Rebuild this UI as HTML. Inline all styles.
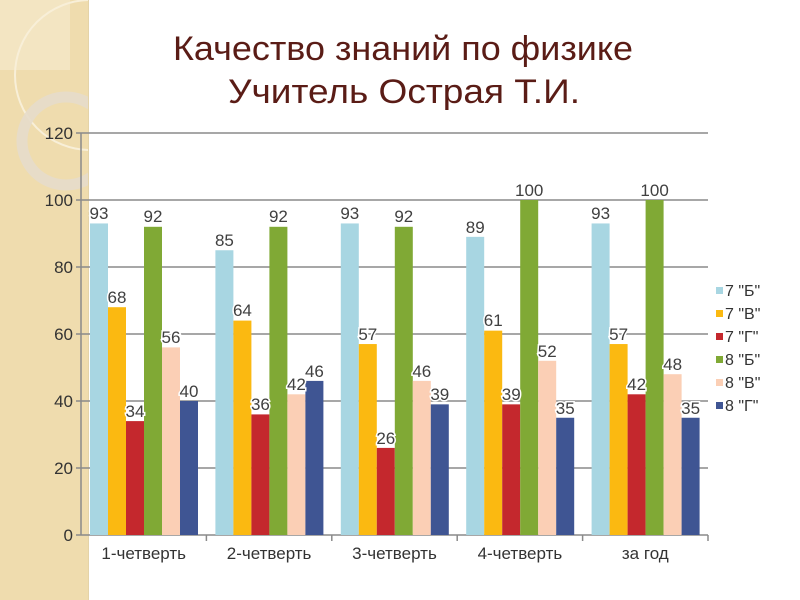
<!DOCTYPE html>
<html><head><meta charset="utf-8"><style>
html,body{margin:0;padding:0;background:#fff;}
svg{display:block;}
text{font-family:"Liberation Sans",sans-serif;}
</style></head><body>
<svg width="800" height="600" viewBox="0 0 800 600" xmlns="http://www.w3.org/2000/svg">
<defs><clipPath id="c"><rect x="0" y="0" width="88" height="600"/></clipPath></defs>
<rect x="0" y="0" width="88" height="600" fill="#efdcae"/>
<g clip-path="url(#c)">
<rect x="0" y="0" width="70" height="70" fill="#f3e5c2"/>
<circle cx="90" cy="75" r="75" fill="none" stroke="#f8efd8" stroke-width="2"/>
<circle cx="66" cy="141" r="44" fill="none" stroke="#e6dccb" stroke-width="11" opacity="0.9"/>
</g>
<line x1="88.5" y1="0" x2="88.5" y2="600" stroke="#e4d3a8" stroke-width="1"/>
<g font-family="'Liberation Serif','DejaVu Sans',serif" fill="#5a1c16" font-size="34" text-anchor="middle">
<text x="403" y="60" textLength="460" lengthAdjust="spacingAndGlyphs">Качество знаний по физике</text>
<text x="404" y="103" textLength="352" lengthAdjust="spacingAndGlyphs">Учитель Острая Т.И.</text>
</g>
<g stroke="#8a8a8a" stroke-width="1.5">
<line x1="76" y1="133" x2="708" y2="133"/>
<line x1="76" y1="200" x2="708" y2="200"/>
<line x1="76" y1="267" x2="708" y2="267"/>
<line x1="76" y1="334" x2="708" y2="334"/>
<line x1="76" y1="401" x2="708" y2="401"/>
<line x1="76" y1="468" x2="708" y2="468"/>
<line x1="76" y1="535" x2="708" y2="535"/>
<line x1="81" y1="133" x2="81" y2="535"/>
<line x1="206.4" y1="535" x2="206.4" y2="541"/>
<line x1="331.8" y1="535" x2="331.8" y2="541"/>
<line x1="457.2" y1="535" x2="457.2" y2="541"/>
<line x1="582.6" y1="535" x2="582.6" y2="541"/>
<line x1="708" y1="535" x2="708" y2="541"/>
</g>
<g font-size="17" fill="#333" text-anchor="end">
<text x="73" y="139">120</text><text x="73" y="206">100</text><text x="73" y="273">80</text>
<text x="73" y="340">60</text><text x="73" y="407">40</text><text x="73" y="474">20</text><text x="73" y="541">0</text>
</g>
<g>
<rect x="90" y="223.45" width="18" height="311.55" fill="#a8d6e2"/>
<rect x="108" y="307.2" width="18" height="227.8" fill="#fbb911"/>
<rect x="126" y="421.1" width="18" height="113.9" fill="#c4282d"/>
<rect x="144" y="226.8" width="18" height="308.2" fill="#80a935"/>
<rect x="162" y="347.4" width="18" height="187.6" fill="#fbcfb5"/>
<rect x="180" y="401" width="18" height="134" fill="#3f5593"/>

<rect x="215.4" y="250.25" width="18" height="284.75" fill="#a8d6e2"/>
<rect x="233.4" y="320.6" width="18" height="214.4" fill="#fbb911"/>
<rect x="251.4" y="414.4" width="18" height="120.6" fill="#c4282d"/>
<rect x="269.4" y="226.8" width="18" height="308.2" fill="#80a935"/>
<rect x="287.4" y="394.3" width="18" height="140.7" fill="#fbcfb5"/>
<rect x="305.4" y="380.9" width="18" height="154.1" fill="#3f5593"/>

<rect x="340.8" y="223.45" width="18" height="311.55" fill="#a8d6e2"/>
<rect x="358.8" y="344.05" width="18" height="190.95" fill="#fbb911"/>
<rect x="376.8" y="447.9" width="18" height="87.1" fill="#c4282d"/>
<rect x="394.8" y="226.8" width="18" height="308.2" fill="#80a935"/>
<rect x="412.8" y="380.9" width="18" height="154.1" fill="#fbcfb5"/>
<rect x="430.8" y="404.35" width="18" height="130.65" fill="#3f5593"/>

<rect x="466.2" y="236.85" width="18" height="298.15" fill="#a8d6e2"/>
<rect x="484.2" y="330.65" width="18" height="204.35" fill="#fbb911"/>
<rect x="502.2" y="404.35" width="18" height="130.65" fill="#c4282d"/>
<rect x="520.2" y="200" width="18" height="335" fill="#80a935"/>
<rect x="538.2" y="360.8" width="18" height="174.2" fill="#fbcfb5"/>
<rect x="556.2" y="417.75" width="18" height="117.25" fill="#3f5593"/>

<rect x="591.6" y="223.45" width="18" height="311.55" fill="#a8d6e2"/>
<rect x="609.6" y="344.05" width="18" height="190.95" fill="#fbb911"/>
<rect x="627.6" y="394.3" width="18" height="140.7" fill="#c4282d"/>
<rect x="645.6" y="200" width="18" height="335" fill="#80a935"/>
<rect x="663.6" y="374.2" width="18" height="160.8" fill="#fbcfb5"/>
<rect x="681.6" y="417.75" width="18" height="117.25" fill="#3f5593"/>
</g>
<g font-size="17" fill="#404040" text-anchor="middle" stroke="#fff" stroke-width="3" paint-order="stroke">
<text x="99" y="219">93</text><text x="117" y="303">68</text><text x="135" y="417">34</text><text x="153" y="222">92</text><text x="171" y="343">56</text><text x="189" y="397">40</text>
<text x="224.4" y="246">85</text><text x="242.4" y="316">64</text><text x="260.4" y="410">36</text><text x="278.4" y="222">92</text><text x="296.4" y="390">42</text><text x="314.4" y="377">46</text>
<text x="349.8" y="219">93</text><text x="367.8" y="340">57</text><text x="385.8" y="444">26</text><text x="403.8" y="222">92</text><text x="421.8" y="377">46</text><text x="439.8" y="400">39</text>
<text x="475.2" y="233">89</text><text x="493.2" y="326">61</text><text x="511.2" y="400">39</text><text x="529.2" y="196">100</text><text x="547.2" y="357">52</text><text x="565.2" y="414">35</text>
<text x="600.6" y="219">93</text><text x="618.6" y="340">57</text><text x="636.6" y="390">42</text><text x="654.6" y="196">100</text><text x="672.6" y="370">48</text><text x="690.6" y="414">35</text>
</g>
<g font-size="17" fill="#333" text-anchor="middle">
<text x="143.7" y="559">1-четверть</text>
<text x="269.1" y="559">2-четверть</text>
<text x="394.5" y="559">3-четверть</text>
<text x="519.9" y="559">4-четверть</text>
<text x="645.3" y="559">за год</text>
</g>
<g font-size="16" fill="#333">
<rect x="716" y="287" width="7" height="7" fill="#a8d6e2"/><text x="725" y="296">7 "Б"</text>
<rect x="716" y="310" width="7" height="7" fill="#fbb911"/><text x="725" y="319">7 "В"</text>
<rect x="716" y="333" width="7" height="7" fill="#c4282d"/><text x="725" y="342">7 "Г"</text>
<rect x="716" y="356" width="7" height="7" fill="#80a935"/><text x="725" y="365">8 "Б"</text>
<rect x="716" y="379" width="7" height="7" fill="#fbcfb5"/><text x="725" y="388">8 "В"</text>
<rect x="716" y="402" width="7" height="7" fill="#3f5593"/><text x="725" y="411">8 "Г"</text>
</g>
</svg>
</body></html>
